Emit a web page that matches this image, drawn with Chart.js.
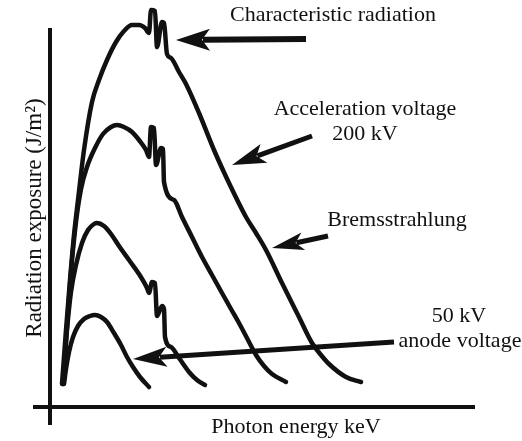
<!DOCTYPE html>
<html>
<head>
<meta charset="utf-8">
<script src="https://cdn.jsdelivr.net/npm/chart.js@4"></script>
<style>
  body { margin: 0; background: #fff; }
  canvas { display: block; }
</style>
</head>
<body>
<canvas id="myChart" width="522" height="441"></canvas>
<script>
'use strict';
// energy (x) and exposure (y) in arbitrary units
let energy50 = [14, 16, 19, 23, 28, 34, 40, 45, 51, 57, 64, 71, 77, 83, 90, 99];
let exposure50 = [23, 38, 55, 70, 81, 88, 91, 92, 90, 85, 74, 62, 50, 40, 30, 20];

let energy100 = [13, 17, 21, 26, 32, 38, 44, 47, 54, 61, 69, 79, 89, 97, 99, 102, 105, 107, 112, 114, 115, 121, 129, 139, 147, 155];
let exposure100 = [23, 77, 115, 142, 164, 177, 183, 184, 181, 173, 161, 147, 133, 119, 114, 125, 124, 91, 101, 98, 70, 60, 49, 35, 27, 22];

let energy150 = [13, 17, 21, 26, 31, 37, 45, 53, 61, 67, 74, 82, 89, 96, 99, 101, 104, 106, 111, 113, 114, 124, 132, 142, 152, 162, 172, 181, 189, 198, 206, 214, 222, 236];
let exposure150 = [23, 80, 135, 185, 218, 240, 259, 273, 280, 282, 280, 275, 267, 257, 250, 280, 279, 242, 259, 258, 225, 207, 190, 170, 150, 132, 114, 98, 84, 67, 52, 41, 33, 25];

let energy200 = [12, 16, 20, 24, 28, 34, 42, 49, 57, 66, 74, 82, 89, 95, 99, 101, 105, 107, 112, 114, 117, 121, 129, 136, 149, 164, 179, 196, 206, 216, 232, 249, 262, 271, 279, 296, 311];
let exposure200 = [23, 77, 127, 172, 207, 257, 305, 327, 347, 365, 376, 382, 382, 379, 374, 397, 396, 360, 385, 384, 353, 349, 335, 323, 294, 257, 224, 190, 174, 157, 124, 90, 64, 52, 43, 30, 25];

let labelsX = 'Photon energy keV';
let labelsY = 'Radiation exposure (J/m\u00B2)';

function toPoints(xs, ys) {
    let pts = [];
    for (let i = 0; i < xs.length; i++) {
        pts.push({ x: xs[i], y: ys[i] });
    }
    return pts;
}

function curve(xs, ys) {
    return {
        data: toPoints(xs, ys),
        borderColor: '#111',
        borderWidth: 4.5,
        pointRadius: 0,
        cubicInterpolationMode: 'monotone',
        borderCapStyle: 'round',
        borderJoinStyle: 'round',
        fill: false,
        clip: false
    };
}

function arrow(ctx, x1, y1, x2, y2, w, headLen, headHalf) {
    let ang = Math.atan2(y2 - y1, x2 - x1);
    let bx = x2 - Math.cos(ang) * headLen;
    let by = y2 - Math.sin(ang) * headLen;
    ctx.strokeStyle = '#111';
    ctx.fillStyle = '#111';
    ctx.lineWidth = w;
    ctx.lineCap = 'butt';
    ctx.beginPath();
    ctx.moveTo(x1, y1);
    ctx.lineTo(bx + Math.cos(ang) * 3, by + Math.sin(ang) * 3);
    ctx.stroke();
    ctx.beginPath();
    ctx.moveTo(x2, y2);
    ctx.lineTo(bx - Math.sin(ang) * headHalf - Math.cos(ang) * 4, by + Math.cos(ang) * headHalf - Math.sin(ang) * 4);
    ctx.lineTo(bx + Math.cos(ang) * 4, by + Math.sin(ang) * 4);
    ctx.lineTo(bx + Math.sin(ang) * headHalf - Math.cos(ang) * 4, by - Math.cos(ang) * headHalf - Math.sin(ang) * 4);
    ctx.closePath();
    ctx.fill();
}

let axesLines = {
    id: 'axesLines',
    beforeDatasetsDraw(chart) {
        let ctx = chart.ctx;
        let xs = chart.scales.x;
        let ys = chart.scales.y;
        let area = chart.chartArea;
        let x0 = xs.getPixelForValue(0);
        let y0 = ys.getPixelForValue(0);
        ctx.save();
        ctx.strokeStyle = '#111';
        ctx.lineWidth = 4;
        ctx.beginPath();
        ctx.moveTo(x0, ys.getPixelForValue(379));
        ctx.lineTo(x0, area.bottom);
        ctx.moveTo(area.left, y0);
        ctx.lineTo(area.right, y0);
        ctx.stroke();
        ctx.restore();
    },
    afterDatasetsDraw(chart) {
        let ctx = chart.ctx;
        ctx.save();
        ctx.fillStyle = '#111';
        ctx.font = '22px "Liberation Serif", serif';
        ctx.textAlign = 'center';
        ctx.textBaseline = 'alphabetic';
        ctx.fillText('Characteristic radiation', 333, 21);
        ctx.fillText('Acceleration voltage', 365, 115);
        ctx.fillText('200 kV', 365, 140);
        ctx.fillText('Bremsstrahlung', 397, 226);
        ctx.fillText('50 kV', 459, 322);
        ctx.fillText('anode voltage', 460, 347);
        ctx.fillText(labelsX, 296, 433);

        ctx.save();
        ctx.translate(41, 218);
        ctx.rotate(-Math.PI / 2);
        ctx.font = '23px "Liberation Serif", serif';
        ctx.fillText(labelsY, 0, 0);
        ctx.restore();

        arrow(ctx, 306, 39, 176, 40, 6, 30, 11);
        arrow(ctx, 312, 136, 232, 165, 5, 30, 10);
        arrow(ctx, 328, 236, 272, 248, 5, 28, 9);
        arrow(ctx, 394, 342, 133, 359, 5, 30, 10);
        ctx.restore();
    }
};

let ctx = document.getElementById('myChart').getContext('2d');
let myChart = new Chart(ctx, {
    type: 'line',
    data: {
        datasets: [
            curve(energy200, exposure200),
            curve(energy150, exposure150),
            curve(energy100, exposure100),
            curve(energy50, exposure50)
        ]
    },
    options: {
        responsive: false,
        animation: false,
        layout: { padding: { left: 33, right: 47, top: 5, bottom: 16 } },
        plugins: { legend: { display: false }, tooltip: { enabled: false } },
        scales: {
            x: { type: 'linear', min: -17, max: 425, display: false },
            y: { type: 'linear', min: -18, max: 402, display: false }
        }
    },
    plugins: [axesLines]
});
</script>
</body>
</html>
